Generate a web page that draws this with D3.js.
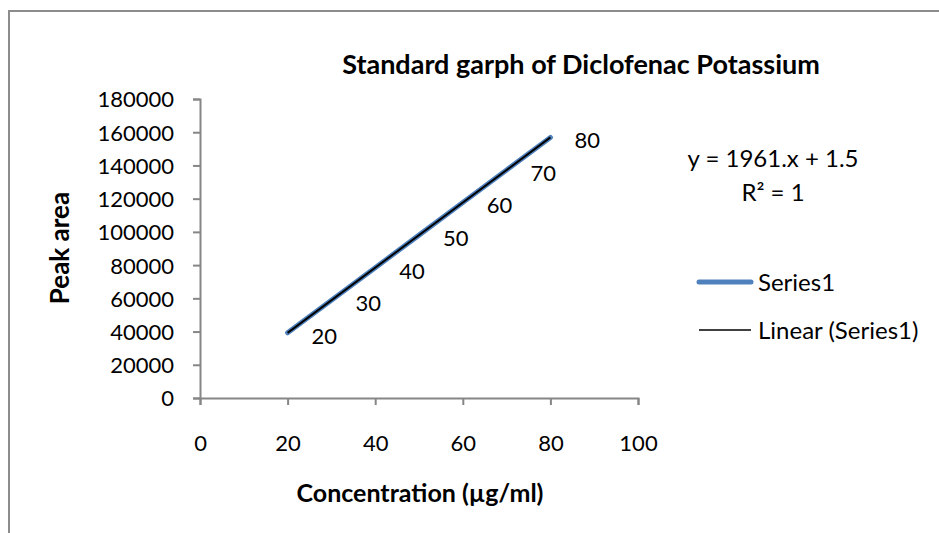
<!DOCTYPE html>
<html>
<head>
<meta charset="utf-8">
<script src="https://cdn.jsdelivr.net/npm/d3@7"></script>
<style>
  body { margin: 0; background: #fff; }
  svg { display: block; font-family: Lato, "Open Sans", sans-serif; }
</style>
</head>
<body>
<svg width="939" height="533"></svg>
<script>
// concentrations (µg/ml) and peak areas
const conc = [20, 30, 40, 50, 60, 70, 80];
const area = [39220, 58830, 78440, 98050, 117660, 137270, 156880];
const pointLabels = ["20", "30", "40", "50", "60", "70", "80"];

const xTicks = [0, 20, 40, 60, 80, 100];
const yTicks = [0, 20000, 40000, 60000, 80000, 100000, 120000, 140000, 160000, 180000];

const slope = 1961, intercept = 1.5;
const eqText = "y = 1961.x + 1.5";
const r2Text = "R² = 1";
const seriesNames = ["Series1", "Linear (Series1)"];

const svg = d3.select("svg");

// chart area border (cropped at right / bottom)
svg.append("rect")
    .attr("x", 9).attr("y", 11)
    .attr("width", 960).attr("height", 560)
    .attr("fill", "none")
    .attr("stroke", "#8c8c8c")
    .attr("stroke-width", 2);

const x = d3.scaleLinear().domain([0, 100]).range([200, 638]);
const y = d3.scaleLinear().domain([0, 180000]).range([398, 99]);

const axisColor = "#868686";

// y axis
const yAxis = svg.append("g")
    .attr("transform", "translate(200,0)")
    .call(d3.axisLeft(y).tickValues(yTicks).tickSize(7).tickPadding(19).tickFormat(d3.format("d")));

// x axis
const xAxis = svg.append("g")
    .attr("transform", "translate(0,398)")
    .call(d3.axisBottom(x).tickValues(xTicks).tickSize(7).tickPadding(30).tickFormat(d3.format("d")));

[yAxis, xAxis].forEach(a => {
    a.select(".domain").attr("stroke", axisColor).attr("stroke-width", 2);
    a.selectAll(".tick line").attr("stroke", axisColor).attr("stroke-width", 2);
    a.selectAll(".tick text")
        .attr("fill", "#000")
        .style("font-size", "22px")
        .style("font-family", "Lato, sans-serif");
});
yAxis.selectAll(".tick text").attr("dy", "0.36em");

// series line
const line = d3.line()
    .x((d, i) => x(conc[i]))
    .y(d => y(d));

svg.append("path")
    .datum(area)
    .attr("d", line)
    .attr("fill", "none")
    .attr("stroke", "#4F81BD")
    .attr("stroke-width", 5)
    .attr("stroke-linecap", "round");

// linear trendline
const xMin = d3.min(conc), xMax = d3.max(conc);
svg.append("line")
    .attr("x1", x(xMin)).attr("y1", y(slope * xMin + intercept))
    .attr("x2", x(xMax)).attr("y2", y(slope * xMax + intercept))
    .attr("stroke", "#000")
    .attr("stroke-width", 2);

// data labels
svg.append("g")
    .selectAll("text")
    .data(area)
    .enter()
    .append("text")
    .attr("x", (d, i) => x(conc[i]) + 24)
    .attr("y", d => y(d) + 3)
    .attr("dy", "0.36em")
    .style("font-size", "22px")
    .text((d, i) => pointLabels[i]);

// title
svg.append("text")
    .attr("x", 581).attr("y", 74)
    .attr("text-anchor", "middle")
    .style("font-size", "27px")
    .style("font-weight", "bold")
    .text("Standard garph of Diclofenac Potassium");

// axis titles
svg.append("text")
    .attr("transform", "translate(69,248) rotate(-90)")
    .attr("text-anchor", "middle")
    .style("font-size", "26px")
    .style("font-weight", "bold")
    .text("Peak area");

svg.append("text")
    .attr("x", 420).attr("y", 502)
    .attr("text-anchor", "middle")
    .style("font-size", "25px")
    .style("font-weight", "bold")
    .text("Concentration (µg/ml)");

// equation
svg.append("text")
    .attr("x", 773).attr("y", 158).attr("dy", "0.36em")
    .attr("text-anchor", "middle")
    .style("font-size", "24px")
    .text(eqText);
svg.append("text")
    .attr("x", 773).attr("y", 192).attr("dy", "0.36em")
    .attr("text-anchor", "middle")
    .style("font-size", "24px")
    .text(r2Text);

// legend
const legend = svg.append("g");
const legendRows = [
    { name: seriesNames[0], color: "#4F81BD", width: 5, yPos: 282 },
    { name: seriesNames[1], color: "#000", width: 1.5, yPos: 330 }
];
legendRows.forEach(r => {
    legend.append("line")
        .attr("x1", 699).attr("x2", 751)
        .attr("y1", r.yPos).attr("y2", r.yPos)
        .attr("stroke", r.color)
        .attr("stroke-width", r.width)
        .attr("stroke-linecap", r.width > 2 ? "round" : "butt");
    legend.append("text")
        .attr("x", 758).attr("y", r.yPos).attr("dy", "0.36em")
        .style("font-size", "24px")
        .text(r.name);
});
</script>
</body>
</html>
